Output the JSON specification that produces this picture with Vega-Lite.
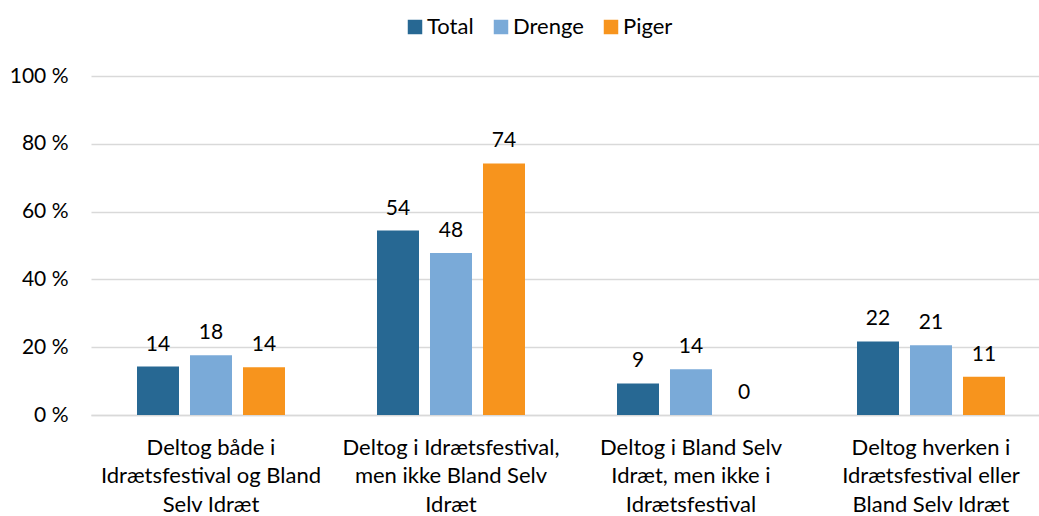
{
  "$schema": "https://vega.github.io/schema/vega-lite/v6.json",
  "autosize": "none",
  "padding": {"left": 91, "top": 76, "right": 0, "bottom": 101},
  "width": 948,
  "height": 339,
  "background": "white",
  "config": {
    "font": "Lato",
    "view": {"stroke": null},
    "axis": {"labelFont": "Lato", "labelColor": "#000000", "labelFontSize": 21}
  },
  "data": {
    "values": [
      {"kategori": "Deltog både i Idrætsfestival og Bland Selv Idræt", "gruppe": "Total", "pct": 14.3},
      {"kategori": "Deltog både i Idrætsfestival og Bland Selv Idræt", "gruppe": "Drenge", "pct": 17.6},
      {"kategori": "Deltog både i Idrætsfestival og Bland Selv Idræt", "gruppe": "Piger", "pct": 14.1},
      {"kategori": "Deltog i Idrætsfestival, men ikke Bland Selv Idræt", "gruppe": "Total", "pct": 54.4},
      {"kategori": "Deltog i Idrætsfestival, men ikke Bland Selv Idræt", "gruppe": "Drenge", "pct": 47.8},
      {"kategori": "Deltog i Idrætsfestival, men ikke Bland Selv Idræt", "gruppe": "Piger", "pct": 74.2},
      {"kategori": "Deltog i Bland Selv Idræt, men ikke i Idrætsfestival", "gruppe": "Total", "pct": 9.3},
      {"kategori": "Deltog i Bland Selv Idræt, men ikke i Idrætsfestival", "gruppe": "Drenge", "pct": 13.5},
      {"kategori": "Deltog i Bland Selv Idræt, men ikke i Idrætsfestival", "gruppe": "Piger", "pct": 0},
      {"kategori": "Deltog hverken i Idrætsfestival eller Bland Selv Idræt", "gruppe": "Total", "pct": 21.7},
      {"kategori": "Deltog hverken i Idrætsfestival eller Bland Selv Idræt", "gruppe": "Drenge", "pct": 20.6},
      {"kategori": "Deltog hverken i Idrætsfestival eller Bland Selv Idræt", "gruppe": "Piger", "pct": 11.3}
    ]
  },
  "encoding": {
    "x": {
      "field": "kategori",
      "type": "nominal",
      "sort": null,
      "scale": {"range": [0, 960], "paddingInner": 0, "paddingOuter": 0},
      "axis": {
        "title": null,
        "labelAngle": 0,
        "ticks": false,
        "domain": true,
        "domainColor": "#d9d9d9",
        "domainWidth": 1.5,
        "labelPadding": 32,
        "labelBaseline": "middle",
        "labelFontSize": 22,
        "labelLineHeight": 28.5,
        "labelLimit": 0,
        "labelExpr": "datum.label == 'Deltog både i Idrætsfestival og Bland Selv Idræt' ? ['Deltog både i', 'Idrætsfestival og Bland', 'Selv Idræt'] : datum.label == 'Deltog i Idrætsfestival, men ikke Bland Selv Idræt' ? ['Deltog i Idrætsfestival,', 'men ikke Bland Selv', 'Idræt'] : datum.label == 'Deltog i Bland Selv Idræt, men ikke i Idrætsfestival' ? ['Deltog i Bland Selv', 'Idræt, men ikke i', 'Idrætsfestival'] : ['Deltog hverken i', 'Idrætsfestival eller', 'Bland Selv Idræt']"
      }
    },
    "xOffset": {
      "field": "gruppe",
      "type": "nominal",
      "sort": ["Total", "Drenge", "Piger"],
      "scale": {"paddingInner": 0.2075, "paddingOuter": 0.868}
    },
    "y": {
      "field": "pct",
      "type": "quantitative",
      "scale": {"domain": [0, 100], "nice": false},
      "axis": {
        "title": null,
        "values": [0, 20, 40, 60, 80, 100],
        "labelExpr": "datum.value + ' %'",
        "domain": false,
        "ticks": false,
        "labelPadding": 23,
        "gridColor": "#d9d9d9",
        "gridWidth": 1.5
      }
    }
  },
  "layer": [
    {
      "mark": {"type": "bar"},
      "encoding": {
        "color": {
          "field": "gruppe",
          "type": "nominal",
          "sort": ["Total", "Drenge", "Piger"],
          "scale": {"domain": ["Total", "Drenge", "Piger"], "range": ["#276893", "#7aaad8", "#f7941d"]},
          "legend": {
            "title": null,
            "orient": "none",
            "direction": "horizontal",
            "legendX": 313,
            "legendY": -60,
            "symbolType": "square",
            "symbolSize": 210,
            "symbolStrokeWidth": 0,
            "labelFont": "Lato",
            "labelFontSize": 22,
            "labelColor": "#000000",
            "labelOffset": 1,
            "columnPadding": 16
          }
        }
      }
    },
    {
      "mark": {"type": "text", "baseline": "alphabetic", "dy": -16, "fontSize": 21, "font": "Lato", "color": "#000000"},
      "encoding": {
        "text": {"field": "pct", "type": "quantitative", "format": ".0f"}
      }
    }
  ]
}
